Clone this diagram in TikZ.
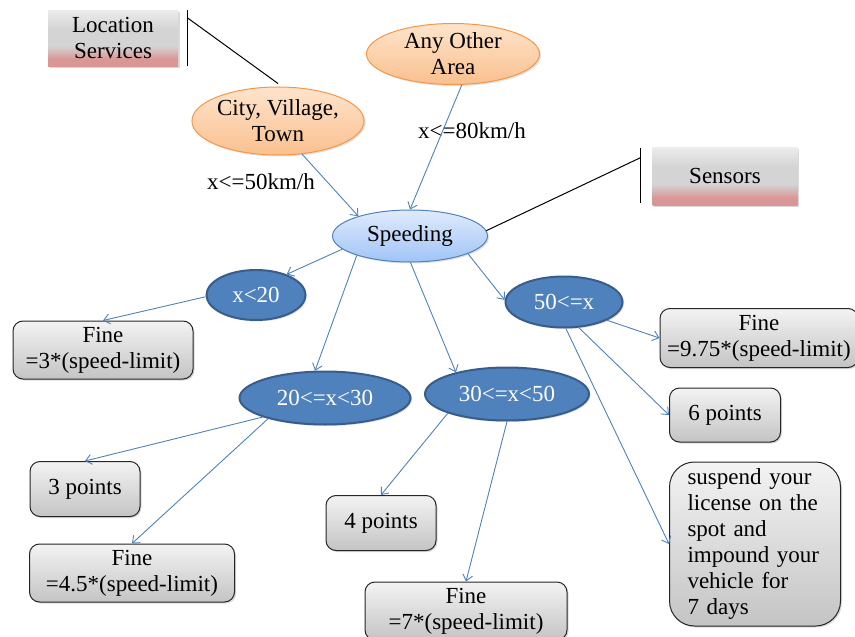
\documentclass[tikz,border=0pt]{standalone}
\usepackage{fontspec}
\setmainfont{Liberation Serif}
\usepackage{tikz}
\usetikzlibrary{shapes.geometric,arrows.meta,positioning,shadows,calc}
\definecolor{nodeblue}{RGB}{79,129,189}
\definecolor{darkblue}{RGB}{56,93,138}
\definecolor{paleblue}{RGB}{224,235,252}
\definecolor{skyblue}{RGB}{160,196,246}
\definecolor{peach}{RGB}{254,228,204}
\definecolor{apricot}{RGB}{250,192,143}
\definecolor{orangeline}{RGB}{247,150,70}
\definecolor{boxtop}{RGB}{243,243,243}
\definecolor{boxbot}{RGB}{196,196,196}
\definecolor{tabtop}{RGB}{236,236,236}
\definecolor{tabmid}{RGB}{212,212,212}
\definecolor{tabpink}{RGB}{217,150,148}
% grey tab fading into pink at the bottom
\pgfdeclareverticalshading{tabshade}{100bp}{color(0bp)=(tabpink); color(31bp)=(tabpink);
  color(43bp)=(tabmid); color(58bp)=(tabmid); color(75bp)=(tabtop); color(100bp)=(tabtop)}
\newcommand\diagfont{\fontsize{23}{26}\selectfont}
\tikzset{
  tab/.style={rectangle,shade,shading=tabshade,align=center,font=\diagfont,
              drop shadow={shadow xshift=1.5pt,shadow yshift=-1.5pt,opacity=.3}},
  zone/.style={ellipse,draw=orangeline,line width=1pt,top color=peach,bottom color=apricot,
              inner sep=0pt,align=center,font=\diagfont,
              drop shadow={shadow xshift=1.5pt,shadow yshift=-1.5pt,opacity=.25}},
  hub/.style={ellipse,draw=nodeblue,line width=1pt,top color=paleblue,bottom color=skyblue,
              align=center,font=\diagfont,
              drop shadow={shadow xshift=1.5pt,shadow yshift=-1.5pt,opacity=.25}},
  cond/.style={ellipse,draw=darkblue,line width=2pt,fill=nodeblue,text=white,
              align=center,font=\diagfont,
              drop shadow={shadow xshift=1.5pt,shadow yshift=-1.5pt,opacity=.25}},
  result/.style={rectangle,rounded corners=10pt,draw=black!85,line width=1pt,
              top color=boxtop,bottom color=boxbot,align=center,font=\diagfont,
              drop shadow={shadow xshift=1.5pt,shadow yshift=-1.5pt,opacity=.3}},
  limit/.style={font=\diagfont},
  flow/.style={-{Straight Barb[length=6pt,width=10pt]},draw=nodeblue,line width=0.9pt},
  callout/.style={draw=black,line width=1pt},
}

\begin{document}
\begin{tikzpicture}[x=1pt,y=-1pt]
  \useasboundingbox (0,0) rectangle (855,637);

  % sources of the limit
  \node[tab,minimum width=130pt,minimum height=56pt] (locsvc) at (113,38) {Location\\Services};
  \node[tab,minimum width=145pt,minimum height=58pt] (sensors) at (725,176) {Sensors};
  \node[zone,minimum width=173pt,minimum height=61pt] (other) at (453,54) {Any Other\\Area};
  \node[zone,minimum width=172pt,minimum height=68pt] (city) at (278,121) {City, Village,\\Town};
  \node[limit] (lim80) at (472,131) {x<=80km/h};
  \node[limit] (lim50) at (261,182) {x<=50km/h};
  \node[hub,minimum width=155pt,minimum height=52pt] (speeding) at (410,236) {Speeding};

  % ranges over the limit
  \node[cond,minimum width=99pt,minimum height=50pt] (lt20) at (256,295) {x<20};
  \node[cond,minimum width=117pt,minimum height=51pt] (ge50) at (564,302) {50<=x};
  \node[cond,minimum width=171pt,minimum height=53pt] (lt30) at (325,398) {20<=x<30};
  \node[cond,minimum width=164pt,minimum height=53pt] (lt50) at (507,394) {30<=x<50};

  % penalties
  \node[result,minimum width=180pt,minimum height=58pt] (fine3) at (103,350) {Fine\\=3*(speed-limit)};
  \node[result,minimum width=198pt,minimum height=59pt] (fine975) at (759,338) {Fine\\=9.75*(speed-limit)};
  \node[result,minimum width=111pt,minimum height=54pt] (pts6) at (725,415) {6 points};
  \node[result,rounded corners=25pt,text width=135pt,align=left,inner xsep=18pt,inner ysep=2pt,
        minimum height=164pt] (suspend) at (755,544)
        {suspend your\\license on the\\spot and\\impound your\\vehicle for\\7 days};
  \node[result,minimum width=110pt,minimum height=55pt] (pts3) at (85,489) {3 points};
  \node[result,minimum width=205pt,minimum height=58pt] (fine45) at (132,573) {Fine\\=4.5*(speed-limit)};
  \node[result,minimum width=110pt,minimum height=55pt] (pts4) at (381,523) {4 points};
  \node[result,minimum width=202pt,minimum height=58pt] (fine7) at (466,611) {Fine\\=7*(speed-limit)};

  % callout brackets
  \coordinate (lsbarT) at ([xshift=9pt]locsvc.north east);
  \coordinate (lsbarB) at ([xshift=9pt]locsvc.south east);
  \coordinate (lstip) at ([yshift=3pt]city.north);
  \coordinate (snbarT) at ([xshift=-12pt,yshift=-1pt]sensors.north west);
  \coordinate (snbarB) at ([xshift=-12pt,yshift=2pt]sensors.south west);
  \draw[callout] (lsbarT) -- (lsbarB);
  \draw[callout] ($(lsbarT)!0.14!(lsbarB)$) -- (lstip);
  \draw[callout] (snbarT) -- (snbarB);
  \draw[callout] ($(snbarT)!0.18!(snbarB)$) -- (speeding.4);

  \draw[flow] (other.-74) -- (speeding.north);
  \draw[flow] (city.-54) -- (speeding.159);
  \draw[flow] (speeding.191) -- (lt20.34);
  \draw[flow] (speeding.200) -- (lt30.110);
  \draw[flow] (speeding.-89) -- (lt50.157);
  \draw[flow] (speeding.-17) -- (ge50.178);
  \draw[flow] (lt20.182) -- (fine3.north);
  \draw[flow] (lt30.197) -- (pts3.north);
  \draw[flow] (lt30.200) -- (fine45.north);
  \draw[flow] (lt50.198) -- (pts4.north);
  \draw[flow] (lt50.-90) -- (fine7.north);
  \draw[flow] (ge50.-23) -- (fine975.west);
  \draw[flow] (ge50.-60) -- (pts6.west);
  \draw[flow] (ge50.-86) -- (suspend.west);
\end{tikzpicture}
\end{document}
